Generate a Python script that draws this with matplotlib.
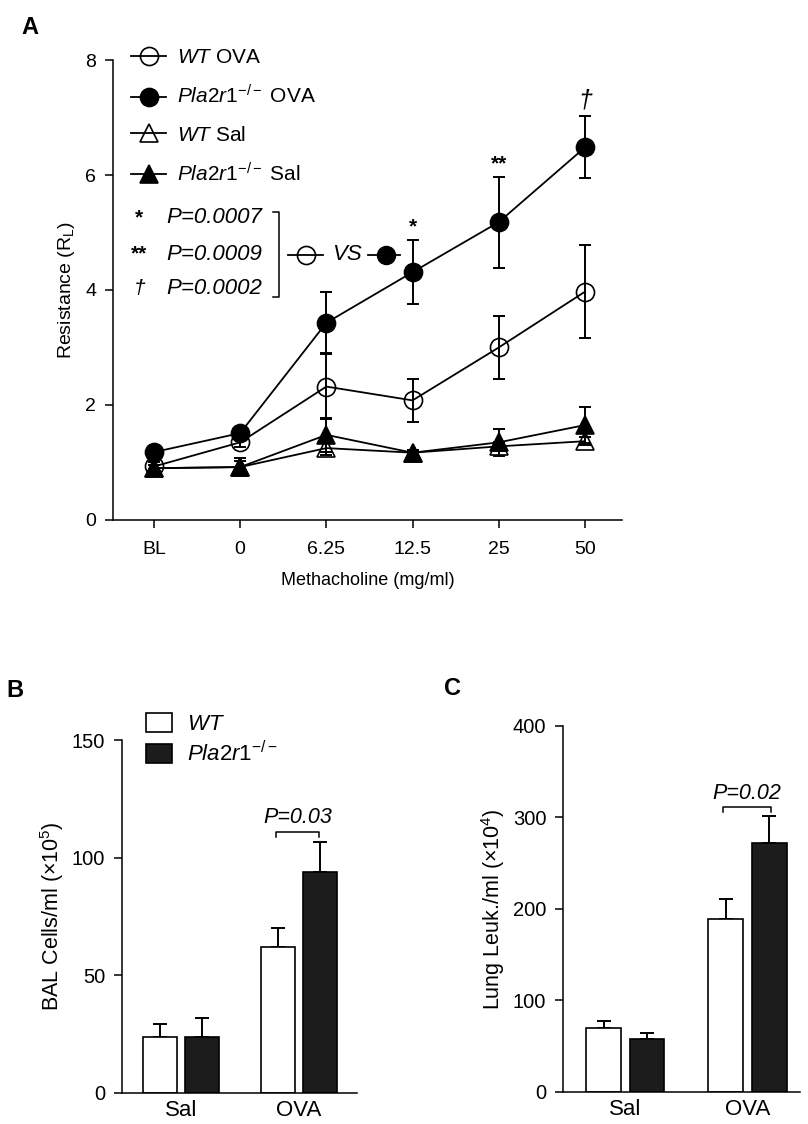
import matplotlib
matplotlib.use("Agg")
import matplotlib.pyplot as plt
from matplotlib.patches import Patch
import numpy as np

plt.rcParams['font.family'] = ['Liberation Sans', 'DejaVu Sans']
plt.rcParams['mathtext.fontset'] = 'custom'
plt.rcParams['mathtext.rm'] = 'Liberation Sans'
plt.rcParams['mathtext.it'] = 'Liberation Sans:italic'
plt.rcParams['axes.linewidth'] = 1.1

# panel A data
doses = ['BL', '0', '6.25', '12.5', '25', '50']
wt_ova = [0.93, 1.35, 2.32, 2.08, 3.00, 3.97]
wt_ova_err = [0.08, 0.08, 0.56, 0.37, 0.54, 0.81]
ko_ova = [1.18, 1.51, 3.43, 4.31, 5.18, 6.48]
ko_ova_err = [0.06, 0.10, 0.53, 0.56, 0.79, 0.54]
wt_sal = [0.90, 0.92, 1.25, 1.17, 1.28, 1.37]
wt_sal_err = [0.05, 0.10, 0.12, 0.05, 0.08, 0.07]
ko_sal = [0.90, 0.92, 1.48, 1.17, 1.35, 1.65]
ko_sal_err = [0.05, 0.15, 0.30, 0.05, 0.24, 0.32]
sig_marks = ['', '', '', '*', '**', '\u2020']
pvals = ['P=0.0007', 'P=0.0009', 'P=0.0002']
pval_marks = ['*', '**', '\u2020']

# panels B and C data
groups = ['Sal', 'OVA']
bal_wt = [24, 62]
bal_wt_err = [5.5, 8]
bal_ko = [24, 94]
bal_ko_err = [8, 12.5]
leuk_wt = [70, 189]
leuk_wt_err = [7.5, 22]
leuk_ko = [58, 272]
leuk_ko_err = [6.5, 30]

ko_lab = r'$\mathit{Pla2r1}^{-/-}$'
wt_lab = r'$\mathit{WT}$'

fig = plt.figure(figsize=(8.08, 11.24), dpi=100)

# ---------- A ----------
ax = fig.add_axes([0.1399, 0.5374, 0.6299, 0.4092])
x = np.arange(len(doses))
styles = [
    (wt_ova, wt_ova_err, 'o', 'none', wt_lab + ' OVA'),
    (ko_ova, ko_ova_err, 'o', 'black', ko_lab + ' OVA'),
    (wt_sal, wt_sal_err, '^', 'none', wt_lab + ' Sal'),
    (ko_sal, ko_sal_err, '^', 'black', ko_lab + ' Sal'),
]
handles = []
for vals, err, mk, fc, lab in styles:
    ax.errorbar(x, vals, yerr=err, fmt='none', ecolor='black', elinewidth=1.4,
                capsize=4, capthick=1.4)
    h, = ax.plot(x, vals, color='black', lw=1.3, marker=mk, markersize=13,
                 markerfacecolor=fc, markeredgecolor='black', markeredgewidth=1.2,
                 label=lab)
    handles.append(h)

for i, m in enumerate(sig_marks):
    if m:
        ax.text(x[i], ko_ova[i] + ko_ova_err[i] + 0.06, m, ha='center', va='bottom',
                fontsize=15 if m != '\u2020' else 18,
                fontweight='bold' if m != '\u2020' else 'normal',
                fontstyle='italic' if m == '\u2020' else 'normal')

ax.set_xlim(-0.475, 5.43)
ax.set_ylim(0, 8)
ax.set_yticks([0, 2, 4, 6, 8])
ax.set_xticks(x)
ax.set_xticklabels(doses)
ax.spines['top'].set_visible(False)
ax.spines['right'].set_visible(False)
ax.tick_params(axis='both', direction='out', length=6, width=1.1, labelsize=14)
ax.tick_params(axis='y', pad=6)
ax.tick_params(axis='x', pad=9)
ax.set_xlabel('Methacholine (mg/ml)', fontsize=13, labelpad=10)
ax.set_ylabel(r'Resistance (R$_\mathrm{L}$)', fontsize=14, labelpad=6)

ax.legend(handles=handles, loc='upper left', bbox_to_anchor=(0.035, 1.026),
          frameon=False, fontsize=15, handlelength=1.7, handletextpad=0.5,
          labelspacing=0.85, borderpad=0, borderaxespad=0)

# p-value block
rows_y = [5.26, 4.62, 4.02]
for yy, mk, pv in zip(rows_y, pval_marks, pvals):
    ax.text(-0.17, yy, mk, ha='center', va='center', fontsize=15,
            fontweight='bold' if mk != '\u2020' else 'normal',
            fontstyle='italic' if mk == '\u2020' else 'normal')
    ax.text(0.14, yy, pv, ha='left', va='center', fontsize=16, fontstyle='italic')
ax.plot([1.38, 1.45, 1.45, 1.38], [5.36, 5.36, 3.87, 3.87], color='black', lw=1.1,
        clip_on=False)
ax.plot([1.55, 1.96], [4.61, 4.61], color='black', lw=1.3)
ax.plot([1.76], [4.61], marker='o', markersize=13, markerfacecolor='none',
        markeredgecolor='black', markeredgewidth=1.2)
ax.text(2.07, 4.61, 'VS', ha='left', va='center', fontsize=16, fontstyle='italic')
ax.plot([2.48, 2.86], [4.61, 4.61], color='black', lw=1.3)
ax.plot([2.69], [4.61], marker='o', markersize=13, color='black')

fig.text(0.027, 0.986, 'A', fontsize=17, fontweight='bold', va='top', ha='left')


def bar_panel(ax, wt, wt_err, ko, ko_err, ymax, yticks, ylabel, xlim, bracket, ptext):
    gx = np.arange(len(groups))
    w = 0.285
    off = 0.178
    ax.bar(gx - off, wt, w, color='white', edgecolor='black', linewidth=1.2, zorder=2)
    ax.bar(gx + off, ko, w, color='#1c1c1c', edgecolor='black', linewidth=1.2, zorder=2)
    ax.errorbar(gx - off, wt, yerr=[np.zeros(len(wt)), wt_err], fmt='none',
                ecolor='black', elinewidth=1.4, capsize=5, capthick=1.4, zorder=1)
    ax.errorbar(gx + off, ko, yerr=[np.zeros(len(ko)), ko_err], fmt='none',
                ecolor='black', elinewidth=1.4, capsize=5, capthick=1.4, zorder=1)
    ax.set_xlim(*xlim)
    ax.set_ylim(0, ymax)
    ax.set_yticks(yticks)
    ax.set_xticks(gx)
    ax.set_xticklabels(groups)
    ax.spines['top'].set_visible(False)
    ax.spines['right'].set_visible(False)
    ax.tick_params(axis='y', direction='out', length=6, width=1.1, labelsize=14.5, pad=6)
    ax.tick_params(axis='x', length=0, labelsize=16, pad=5)
    ax.set_ylabel(ylabel, fontsize=15.5, labelpad=4)
    bx0, bx1, by, bleg, ty = bracket
    ax.plot([bx0, bx0, bx1, bx1], [by - bleg, by, by, by - bleg], color='black',
            lw=1.1, clip_on=False)
    ax.text((bx0 + bx1) / 2, ty, ptext, ha='center', va='bottom', fontsize=15.5,
            fontstyle='italic')


# ---------- B ----------
axb = fig.add_axes([0.151, 0.0276, 0.2908, 0.314])
bar_panel(axb, bal_wt, bal_wt_err, bal_ko, bal_ko_err, 150, [0, 50, 100, 150],
          r'BAL Cells/ml ($\times$10$^{5}$)', (-0.5, 1.49),
          (0.80, 1.17, 111, 2, 112.5), 'P=0.03')
axb.legend(handles=[Patch(facecolor='white', edgecolor='black', linewidth=1.2, label=wt_lab),
                    Patch(facecolor='#1c1c1c', edgecolor='black', linewidth=1.2, label=ko_lab)],
           loc='upper left', bbox_to_anchor=(0.102, 1.078), frameon=False, fontsize=16,
           handlelength=1.18, handleheight=0.95, handletextpad=0.68, labelspacing=0.27,
           borderpad=0, borderaxespad=0)
fig.text(0.008, 0.396, 'B', fontsize=17, fontweight='bold', va='top', ha='left')

# ---------- C ----------
axc = fig.add_axes([0.6968, 0.0285, 0.2933, 0.3256])
bar_panel(axc, leuk_wt, leuk_wt_err, leuk_ko, leuk_ko_err, 400, [0, 100, 200, 300, 400],
          r'Lung Leuk./ml ($\times$10$^{4}$)', (-0.51, 1.43),
          (0.80, 1.19, 311, 4.5, 315), 'P=0.02')
fig.text(0.549, 0.398, 'C', fontsize=17, fontweight='bold', va='top', ha='left')

fig.savefig('out.png', dpi=100)
